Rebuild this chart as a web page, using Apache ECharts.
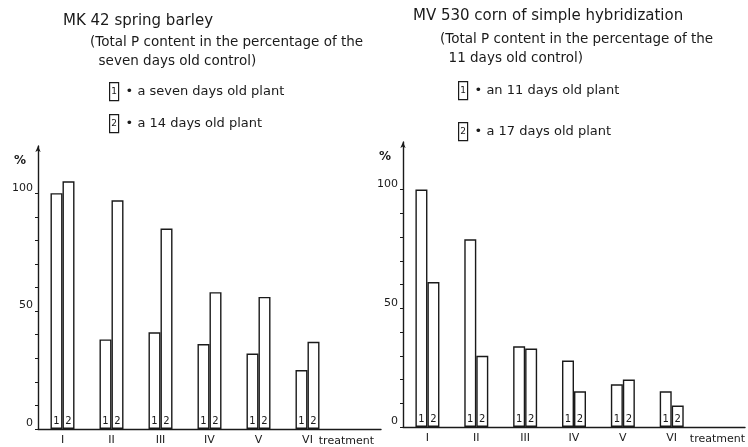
<!DOCTYPE html>
<html>
<head>
<meta charset="utf-8">
<script src="https://cdn.jsdelivr.net/npm/echarts@6/dist/echarts.min.js"></script>
<style>
html, body { margin: 0; padding: 0; background: #fff; }
#main { width: 748px; height: 447px; }
</style>
</head>
<body>
<div id="main"></div>
<script>
// data
var treatments = ['I', 'II', 'III', 'IV', 'V', 'VI', ''];
var barley7 = [100, 38, 41, 36, 32, 25];
var barley14 = [105, 97, 85, 58, 56, 37];
var corn11 = [100, 79, 34, 28, 18, 15];
var corn17 = [61, 30, 33, 15, 20, 9];
var yTicks = [0, 10, 20, 30, 40, 50, 60, 70, 80, 90, 100];
var yLabels = [0, 50, 100];

var ink = '#1a1a1a';
var font = 'DejaVu Sans';

var chart = echarts.init(document.getElementById('main'));

function xAxis(idx, gap) {
    return {
        type: 'category', gridIndex: idx, data: treatments,
        axisLine: { lineStyle: { color: ink, width: 1.4 } },
        axisTick: { show: false },
        axisLabel: { color: ink, fontSize: 11, fontFamily: font, margin: 6 },
        name: 'treatment', nameLocation: 'end', nameGap: gap,
        nameTextStyle: { color: ink, fontSize: 11, fontFamily: font, align: 'right', verticalAlign: 'top', padding: [7, 0, 0, 0] }
    };
}
function yAxis(idx) {
    return {
        type: 'value', gridIndex: idx, min: 0, max: 120,
        splitLine: { show: false },
        axisLine: { show: true, lineStyle: { color: ink, width: 1.4 }, symbol: ['none', 'arrow'], symbolSize: [4, 6] },
        axisTick: { show: true, length: 3, customValues: yTicks, lineStyle: { color: ink } },
        axisLabel: { customValues: yLabels, color: ink, fontSize: 11, fontFamily: font, margin: 5, verticalAlign: 'bottom' },
        name: '%', nameLocation: 'end', nameGap: -9,
        nameTextStyle: { color: ink, fontSize: 12, fontFamily: font, fontWeight: 'bold', align: 'right', verticalAlign: 'top', padding: [0, 12, 0, 0] }
    };
}
function bars(idx, values, tag) {
    return {
        type: 'bar', xAxisIndex: idx, yAxisIndex: idx, data: values,
        barWidth: 12, barGap: '0%',
        itemStyle: { color: '#fff', borderColor: ink, borderWidth: 1.4 },
        label: { show: true, position: 'insideBottom', distance: 3, formatter: tag, color: ink, fontSize: 10, fontFamily: font }
    };
}
function legendRow(x, y, tag, txt) {
    return {
        type: 'group', left: x, top: y - 9,
        children: [
            { type: 'rect', shape: { x: 0, y: 0, width: 9, height: 18 }, style: { fill: '#fff', stroke: ink, lineWidth: 1.2 } },
            { type: 'text', x: 4.5, y: 9, style: { text: tag, fill: ink, fontSize: 9, fontFamily: font, align: 'center', verticalAlign: 'middle' } },
            { type: 'text', x: 16, y: 9, style: { text: txt, fill: ink, fontSize: 13, fontFamily: font, verticalAlign: 'middle' } }
        ]
    };
}

var titleStyle = { color: ink, fontSize: 15, fontFamily: font, fontWeight: 'normal' };
var subStyle = { color: ink, fontSize: 13.5, fontFamily: font, fontWeight: 'normal', lineHeight: 19 };

chart.setOption({
    animation: false,
    title: [
        { text: 'MK 42 spring barley', left: 63, top: 14, padding: 0, textStyle: titleStyle },
        { text: '(Total P content in the percentage of the\n  seven days old control)', left: 90, top: 33, padding: 0, textStyle: subStyle },
        { text: 'MV 530 corn of simple hybridization', left: 413, top: 9, padding: 0, textStyle: titleStyle },
        { text: '(Total P content in the percentage of the\n  11 days old control)', left: 440, top: 30, padding: 0, textStyle: subStyle }
    ],
    grid: [
        { left: 38, top: 146, width: 343, height: 283 },
        { left: 403, top: 142, width: 344, height: 285 }
    ],
    xAxis: [xAxis(0, -8), xAxis(1, 0)],
    yAxis: [yAxis(0), yAxis(1)],
    series: [
        bars(0, barley7, '1'), bars(0, barley14, '2'),
        bars(1, corn11, '1'), bars(1, corn17, '2')
    ],
    graphic: [
        legendRow(109, 91, '1', '• a seven days old plant'),
        legendRow(109, 123, '2', '• a 14 days old plant'),
        legendRow(458, 90, '1', '• an 11 days old plant'),
        legendRow(458, 131, '2', '• a 17 days old plant')
    ]
});
</script>
</body>
</html>
